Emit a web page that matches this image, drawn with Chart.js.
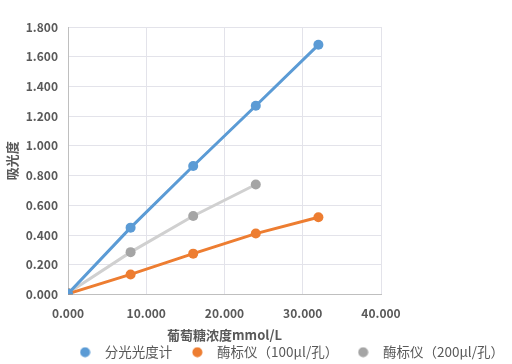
<!DOCTYPE html>
<html>
<head>
<meta charset="utf-8">
<script src="https://cdn.jsdelivr.net/npm/chart.js@4.4.0/dist/chart.umd.min.js"></script>
<style>
html,body{margin:0;padding:0;background:#fff;}
#wrap{width:512px;height:364px;}
</style>
</head>
<body>
<div id="wrap"><canvas id="c" width="512" height="364"></canvas></div>
<script>
const concentrations = [0, 8, 16, 24, 32];
const spectro = [0.005, 0.45, 0.865, 1.27, 1.68];
const reader100 = [0.005, 0.135, 0.275, 0.41, 0.52];
const reader200Conc = [0, 8, 16, 24];
const reader200 = [0.01, 0.285, 0.528, 0.74];
const seriesNames = ['分光光度计', '酶标仪（100μl/孔）', '酶标仪（200μl/孔）'];
const xTitle = '葡萄糖浓度mmol/L';
const yTitle = '吸光度';

const toPts = (xs, ys) => xs.map((x, i) => ({x: x, y: ys[i]}));
const FONT = "'Noto Sans CJK SC', 'Noto Sans', sans-serif";
const TXT = '#595959';

function dot(color) {
  const c = document.createElement('canvas');
  c.width = 11; c.height = 11;
  const g = c.getContext('2d');
  g.fillStyle = color;
  g.beginPath(); g.arc(5.5, 5.5, 5, 0, Math.PI * 2); g.fill();
  return c;
}

new Chart(document.getElementById('c'), {
  type: 'scatter',
  data: {
    datasets: [
      {label: seriesNames[0], data: toPts(concentrations, spectro), showLine: true,
       borderColor: '#5b9bd5', backgroundColor: '#5b9bd5', borderWidth: 3,
       pointRadius: 5, pointBackgroundColor: '#5b9bd5', pointBorderColor: '#5b9bd5', pointBorderWidth: 0, order: 1},
      {label: seriesNames[1], data: toPts(concentrations, reader100), showLine: true,
       borderColor: '#ed7d31', backgroundColor: '#ed7d31', borderWidth: 3,
       pointRadius: 5, pointBackgroundColor: '#ed7d31', pointBorderColor: '#ed7d31', pointBorderWidth: 0, order: 2},
      {label: seriesNames[2], data: toPts(reader200Conc, reader200), showLine: true,
       borderColor: '#d0d0d0', backgroundColor: '#a5a5a5', borderWidth: 3,
       pointRadius: 5, pointBackgroundColor: '#a5a5a5', pointBorderColor: '#a5a5a5', pointBorderWidth: 0, order: 3}
    ]
  },
  options: {
    responsive: false,
    animation: false,
    layout: {padding: {top: 27, left: 4, right: -4, bottom: -5}},
    plugins: {
      legend: {
        position: 'bottom', align: 'end',
        labels: {
          usePointStyle: true, pointStyleWidth: 26, boxHeight: 7,
          color: TXT, font: {family: FONT, size: 13.5}, padding: 12,
          generateLabels: chart => Chart.defaults.plugins.legend.labels.generateLabels(chart).map((it, i) => {
            it.pointStyle = dot(chart.data.datasets[i].pointBackgroundColor);
            return it;
          })
        }
      },
      tooltip: {enabled: false}
    },
    scales: {
      x: {
        type: 'linear', min: 0, max: 40,
        ticks: {stepSize: 10, callback: v => v.toFixed(3), color: TXT,
                font: {family: FONT, size: 12, weight: 'bold'}, padding: 12, maxRotation: 0},
        grid: {color: '#e3e3ea', drawTicks: false},
        border: {color: '#bfbfbf', width: 1},
        title: {display: true, text: xTitle, color: TXT, font: {family: FONT, size: 13, weight: 'bold'}, padding: {top: -6, bottom: -9}}
      },
      y: {
        type: 'linear', min: 0, max: 1.8,
        ticks: {stepSize: 0.2, callback: v => v.toFixed(3), color: TXT,
                font: {family: FONT, size: 12, weight: 'bold'}, padding: 10},
        grid: {color: '#e3e3ea', drawTicks: false},
        border: {color: '#bfbfbf', width: 1},
        title: {display: true, text: yTitle, color: TXT, font: {family: FONT, size: 13, weight: 'bold'}, padding: {top: 0, bottom: 4}},
        afterFit: a => { a.width = 64; }
      },
      spacer: {
        type: 'linear', position: 'right', display: true,
        ticks: {display: false}, grid: {display: false}, border: {display: false},
        afterFit: a => { a.width = 135; }
      }
    }
  }
});
</script>
</body>
</html>
